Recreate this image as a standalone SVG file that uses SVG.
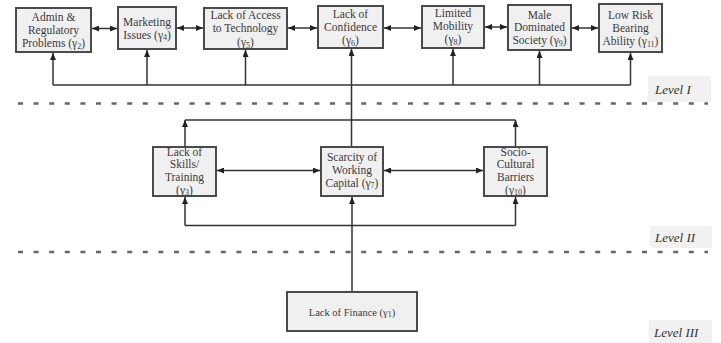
<svg xmlns="http://www.w3.org/2000/svg" width="721" height="343" viewBox="0 0 721 343">
<defs>
<marker id="ah" markerWidth="7" markerHeight="6" refX="7" refY="3" orient="auto-start-reverse" markerUnits="userSpaceOnUse">
<path d="M0,0 L7,3 L0,6 Z" fill="#222"/>
</marker>
<style>
.box{fill:#f0f0f0;stroke:#4a4a4a;stroke-width:2}
.t{font-family:"Liberation Serif","Times New Roman",serif;font-size:11.5px;fill:#3a3a3a;text-anchor:middle}
.s{font-size:8px}
.c{fill:none;stroke:#333;stroke-width:1.5}
.dash{stroke:#666;stroke-width:2.5;stroke-dasharray:5 10.6;fill:none}
.lvbg{fill:#f1f1f1}
.lv{font-family:"Liberation Serif","Times New Roman",serif;font-style:italic;font-size:13px;fill:#333}
</style>
</defs>
<rect width="721" height="343" fill="#fff"/>

<g id="levels">
<line class="dash" x1="18" y1="103.5" x2="708" y2="103.5"/>
<line class="dash" x1="18" y1="252" x2="708" y2="252"/>
<rect class="lvbg" x="648" y="76" width="63" height="26"/>
<text class="lv" x="655" y="94">Level I</text>
<rect class="lvbg" x="650" y="226" width="62" height="22"/>
<text class="lv" x="655" y="242">Level II</text>
<rect class="lvbg" x="649" y="320" width="63" height="23"/>
<text class="lv" x="654" y="337">Level III</text>
</g>

<g id="connectors">
<line class="c" x1="92" y1="28.5" x2="117" y2="28.5" marker-start="url(#ah)" marker-end="url(#ah)"/>
<line class="c" x1="177" y1="28" x2="203" y2="28" marker-start="url(#ah)" marker-end="url(#ah)"/>
<line class="c" x1="288" y1="28" x2="317" y2="28" marker-start="url(#ah)" marker-end="url(#ah)"/>
<line class="c" x1="384" y1="28" x2="421" y2="28" marker-start="url(#ah)" marker-end="url(#ah)"/>
<line class="c" x1="485" y1="27" x2="507" y2="27" marker-start="url(#ah)" marker-end="url(#ah)"/>
<line class="c" x1="572" y1="28" x2="598" y2="28" marker-start="url(#ah)" marker-end="url(#ah)"/>
<line class="c" x1="53" y1="85" x2="630.5" y2="85"/>
<line class="c" x1="53" y1="85" x2="53" y2="53" marker-end="url(#ah)"/>
<line class="c" x1="147" y1="85" x2="147" y2="50" marker-end="url(#ah)"/>
<line class="c" x1="245.5" y1="85" x2="245.5" y2="50" marker-end="url(#ah)"/>
<line class="c" x1="453" y1="85" x2="453" y2="49" marker-end="url(#ah)"/>
<line class="c" x1="539.5" y1="85" x2="539.5" y2="51" marker-end="url(#ah)"/>
<line class="c" x1="630.5" y1="85" x2="630.5" y2="53" marker-end="url(#ah)"/>
<line class="c" x1="351.5" y1="146" x2="351.5" y2="49" marker-end="url(#ah)"/>
<line class="c" x1="185" y1="120" x2="515.5" y2="120"/>
<line class="c" x1="185" y1="146" x2="185" y2="120" marker-end="url(#ah)"/>
<line class="c" x1="515.5" y1="146" x2="515.5" y2="120" marker-end="url(#ah)"/>
<line class="c" x1="217" y1="170.5" x2="320" y2="170.5" marker-start="url(#ah)" marker-end="url(#ah)"/>
<line class="c" x1="384" y1="170.5" x2="483" y2="170.5" marker-start="url(#ah)" marker-end="url(#ah)"/>
<line class="c" x1="185" y1="225.5" x2="515.5" y2="225.5"/>
<line class="c" x1="185" y1="225.5" x2="185" y2="197" marker-end="url(#ah)"/>
<line class="c" x1="515.5" y1="225.5" x2="515.5" y2="197" marker-end="url(#ah)"/>
<line class="c" x1="352" y1="291" x2="352" y2="197" marker-end="url(#ah)"/>
</g>

<g id="n-admin">
<rect class="box" x="16" y="8" width="75" height="44"/>
<text class="t" x="53.5" y="21">Admin &amp;</text>
<text class="t" x="53.5" y="34">Regulatory</text>
<text class="t" x="53.5" y="47">Problems (γ<tspan class="s" dy="1.5">2</tspan><tspan dy="-1.5">)</tspan></text>
</g>
<g id="n-marketing">
<rect class="box" x="118" y="7" width="58" height="42"/>
<text class="t" x="147" y="25.5">Marketing</text>
<text class="t" x="147" y="38.5">Issues (γ<tspan class="s" dy="1.5">4</tspan><tspan dy="-1.5">)</tspan></text>
</g>
<g id="n-tech">
<rect class="box" x="204" y="8" width="83" height="41"/>
<text class="t" x="245.5" y="19">Lack of Access</text>
<text class="t" x="245.5" y="32">to Technology</text>
<text class="t" x="245.5" y="46">(γ<tspan class="s" dy="1.5">5</tspan><tspan dy="-1.5">)</tspan></text>
</g>
<g id="n-confidence">
<rect class="box" x="318" y="6" width="65" height="42"/>
<text class="t" x="350.5" y="18">Lack of</text>
<text class="t" x="350.5" y="31">Confidence</text>
<text class="t" x="350.5" y="44">(γ<tspan class="s" dy="1.5">6</tspan><tspan dy="-1.5">)</tspan></text>
</g>
<g id="n-mobility">
<rect class="box" x="422" y="6" width="62" height="42"/>
<text class="t" x="453" y="17">Limited</text>
<text class="t" x="453" y="30">Mobility</text>
<text class="t" x="453" y="43">(γ<tspan class="s" dy="1.5">8</tspan><tspan dy="-1.5">)</tspan></text>
</g>
<g id="n-male">
<rect class="box" x="508" y="5" width="63" height="45"/>
<text class="t" x="539.5" y="19">Male</text>
<text class="t" x="539.5" y="31">Dominated</text>
<text class="t" x="539.5" y="44">Society (γ<tspan class="s" dy="1.5">9</tspan><tspan dy="-1.5">)</tspan></text>
</g>
<g id="n-lowrisk">
<rect class="box" x="599" y="4" width="63" height="48"/>
<text class="t" x="630.5" y="19">Low Risk</text>
<text class="t" x="630.5" y="32">Bearing</text>
<text class="t" x="630.5" y="45">Ability (γ<tspan class="s" dy="1.5">11</tspan><tspan dy="-1.5">)</tspan></text>
</g>
<g id="n-skills">
<rect class="box" x="153" y="147" width="63" height="49"/>
<text class="t" x="184.5" y="155.5">Lack of</text>
<text class="t" x="184.5" y="168">Skills/</text>
<text class="t" x="184.5" y="180.5">Training</text>
<text class="t" x="184.5" y="193.5">(γ<tspan class="s" dy="1.5">3</tspan><tspan dy="-1.5">)</tspan></text>
</g>
<g id="n-scarcity">
<rect class="box" x="321" y="147" width="62" height="49"/>
<text class="t" x="352" y="161">Scarcity of</text>
<text class="t" x="352" y="174">Working</text>
<text class="t" x="352" y="186.5">Capital (γ<tspan class="s" dy="1.5">7</tspan><tspan dy="-1.5">)</tspan></text>
</g>
<g id="n-socio">
<rect class="box" x="484" y="147" width="63" height="49"/>
<text class="t" x="515.5" y="155.5">Socio-</text>
<text class="t" x="515.5" y="168">Cultural</text>
<text class="t" x="515.5" y="180.5">Barriers</text>
<text class="t" x="515.5" y="193.5">(γ<tspan class="s" dy="1.5">10</tspan><tspan dy="-1.5">)</tspan></text>
</g>
<g id="n-finance">
<rect class="box" x="287" y="292" width="130" height="39"/>
<text class="t" x="352" y="315.5" style="font-size:10.5px">Lack of Finance (γ<tspan class="s" dy="1.5">1</tspan><tspan dy="-1.5">)</tspan></text>
</g>
</svg>
